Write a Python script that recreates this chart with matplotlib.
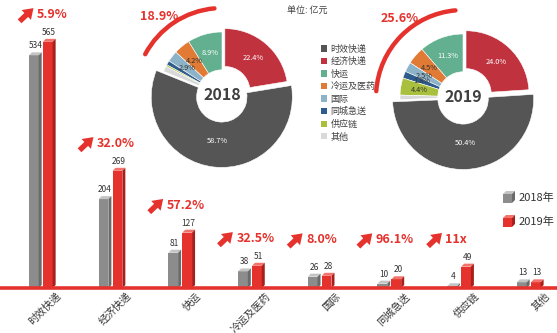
import matplotlib
matplotlib.use("Agg")
import matplotlib.pyplot as plt
from matplotlib.patches import Polygon, Arc, Patch, Rectangle
from matplotlib.transforms import ScaledTranslation, offset_copy

plt.rcParams['font.family'] = ['Noto Sans CJK SC', 'DejaVu Sans']

# ---- data (亿元) ----
categories = ['时效快递', '经济快递', '快运', '冷运及医药', '国际', '同城急送', '供应链', '其他']
rev_2018 = [534, 204, 81, 38, 26, 10, 4, 13]
rev_2019 = [565, 269, 127, 51, 28, 20, 49, 13]
growth_labels = ['5.9%', '32.0%', '57.2%', '32.5%', '8.0%', '96.1%', '11x', None]
year_labels = ['2018', '2019']
legend_years = ['2018年', '2019年']

# ---- styles ----
RED = '#E5322D'
TXT = '#333333'
pie_colors = ['#555555', '#C0323E', '#62B08F', '#E07A35',
              '#8DB3C8', '#2E5C8C', '#A9BF3E', '#D9D9D9']
gray_faces = ('#8C8C8C', '#C4C4C4', '#6A6A6A')   # front, top, side
red_faces = ('#E5322D', '#F2736B', '#A81F1C')

W, H = 557, 333
fig = plt.figure(figsize=(W / 100, H / 100), dpi=100)
fig.patch.set_facecolor('white')

# ---- bar chart ----
ax = fig.add_axes([0, 45 / H, 1, 288 / H])
ax.set_xlim(-0.59, 7.40)
ax.set_ylim(0, 661)
for s in ax.spines.values():
    s.set_visible(False)
ax.set_xticks([])
ax.set_yticks([])
ax.patch.set_alpha(0)

ppx = W / (7.40 + 0.59)          # pixels per x unit
ppy = 288 / 661                  # pixels per y unit
ddx = 3 / ppx                    # depth of the 3D faces
ddy = 3 / ppy
bw = 0.14


def bar3d(xc, h, faces):
    front, top, side = faces
    x0, x1 = xc - bw / 2, xc + bw / 2
    ax.bar(xc, h, bw, color=front, zorder=2, linewidth=0)
    ax.add_patch(Polygon([(x0, h), (x1, h), (x1 + ddx, h + ddy), (x0 + ddx, h + ddy)],
                         closed=True, facecolor=top, edgecolor='none', zorder=2))
    ax.add_patch(Polygon([(x1, 0), (x1 + ddx, ddy), (x1 + ddx, h + ddy), (x1, h)],
                         closed=True, facecolor=side, edgecolor='none', zorder=2))
    ax.text(xc + ddx / 2, h + ddy + 2 / ppy, f'{h}', ha='center', va='bottom',
            fontsize=6, color=TXT, zorder=4)


for i, (a, b) in enumerate(zip(rev_2018, rev_2019)):
    bar3d(i - 0.105, a, gray_faces)
    bar3d(i + 0.095, b, red_faces)

ax.axhline(0, color=RED, lw=2.6, zorder=3, clip_on=False)

# category labels
lbl_tr = ax.transData + ScaledTranslation(0.15, -0.03, fig.dpi_scale_trans)
for i, c in enumerate(categories):
    ax.text(i, 0, c, transform=lbl_tr, rotation=45, rotation_mode='anchor',
            ha='right', va='top', fontsize=7.4, color=TXT)

# growth annotations
for i, g in enumerate(growth_labels):
    if g is None:
        continue
    y = max(rev_2019[i], 48) + 63
    xt = max(i - 0.2, -0.06)
    ax.text(xt, y, g, ha='left', va='center', fontsize=9, fontweight='bold',
            color=RED, zorder=5)
    head = offset_copy(ax.transData, fig=fig, x=-2.5, y=4.5, units='points')
    ax.annotate('', xy=(xt, y), xycoords=head, xytext=(-10, -9.5),
                textcoords='offset points',
                arrowprops=dict(arrowstyle='simple,head_length=0.55,head_width=0.75,tail_width=0.3',
                                color=RED, lw=0, shrinkA=0, shrinkB=0, mutation_scale=13))

# ---- donut charts ----
order = [2, 3, 4, 5, 6, 7, 0, 1]   # counter-clockwise from 12 o'clock


def donut(rect, vals, year):
    pax = fig.add_axes(rect)
    total = sum(vals)
    explode = [0.07 if k == 1 else (0.03 if k == 0 else 0) for k in order]
    wedges, _, autos = pax.pie(
        [vals[k] for k in order], colors=[pie_colors[k] for k in order],
        startangle=90, counterclock=True, explode=explode, radius=1.0,
        wedgeprops=dict(width=0.6, edgecolor='white', linewidth=0.4),
        autopct=lambda p: f'{p:.1f}%' if p >= 1.5 else '',
        pctdistance=0.7, textprops=dict(fontsize=5.3))
    pax.set_xlim(-1.5, 1.5)
    pax.set_ylim(-1.5, 1.5)
    pax.set_aspect('equal')
    pax.axis('off')
    dark = wedges[order.index(0)]
    dark.set_radius(1.12)
    dark.set_width(0.72)
    for k, t in zip(order, autos):
        t.set_color('white' if k in (0, 1, 2) else '#333333')
    pax.text(0, 0, year, ha='center', va='center', fontsize=11.5,
             fontweight='bold', color='#404040')
    p0 = round(vals[0] / total * 100, 1)
    p1 = round(vals[1] / total * 100, 1)
    share = round(100 - p0 - p1, 1)
    r = 1.38
    pax.add_patch(Arc((0, 0), 2 * r, 2 * r, theta1=95, theta2=90 + share * 3.6 - 6,
                      lw=3.2, color=RED, capstyle='round'))
    pax.text(-0.07 - 0.63, 1.25, f'{share:.1f}%', ha='right', va='center',
             fontsize=9, fontweight='bold', color=RED)
    return pax


S = 189
donut([(222 - S / 2) / W, (H - 95 - S / 2) / H, S / W, S / H], rev_2018, year_labels[0])
donut([(463 - S / 2) / W, (H - 97 - S / 2) / H, S / W, S / H], rev_2019, year_labels[1])

fig.legend([Patch(facecolor=c) for c in pie_colors], categories,
           loc='upper left', bbox_to_anchor=(316 / W, 1 - 40 / H),
           frameon=False, fontsize=6.5, handlelength=0.7, handleheight=0.7,
           handletextpad=0.4, labelspacing=0.38, borderpad=0, labelcolor='#404040')

# ---- overlay (pixel coordinates) for unit note and year legend ----
ov = fig.add_axes([0, 0, 1, 1])
ov.set_xlim(0, W)
ov.set_ylim(H, 0)
ov.axis('off')
ov.patch.set_alpha(0)
ov.text(287, 10, '单位: 亿元', ha='left', va='center', fontsize=6.5, color='#404040')

for (yc, faces, lab) in [(198, gray_faces, legend_years[0]), (222, red_faces, legend_years[1])]:
    front, top, side = faces
    x0, y0, s, d = 503, yc - 4, 9, 3
    ov.add_patch(Rectangle((x0, y0), s, s, facecolor=front, edgecolor='none'))
    ov.add_patch(Polygon([(x0, y0), (x0 + s, y0), (x0 + s + d, y0 - d), (x0 + d, y0 - d)],
                         closed=True, facecolor=top, edgecolor='none'))
    ov.add_patch(Polygon([(x0 + s, y0), (x0 + s + d, y0 - d), (x0 + s + d, y0 + s - d), (x0 + s, y0 + s)],
                         closed=True, facecolor=side, edgecolor='none'))
    ov.text(519, yc, lab, ha='left', va='center', fontsize=8, color=TXT)

fig.savefig('out.png', dpi=100, facecolor='white')
